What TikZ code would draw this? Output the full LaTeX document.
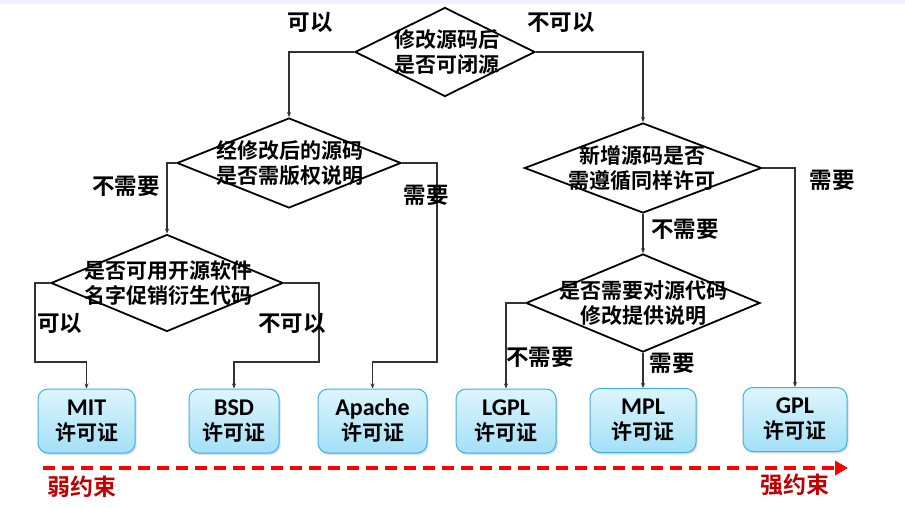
\documentclass[tikz,border=0pt]{standalone}
\usepackage{fontspec}
\setmainfont{Carlito}
\newfontfamily\cjk{Noto Sans CJK SC}[BoldFont={Noto Sans CJK SC Bold}]
\usetikzlibrary{shapes.geometric,arrows.meta,shadows}
\definecolor{boxtop}{HTML}{DDF5FD}
\definecolor{boxbot}{HTML}{A3E0F7}
\definecolor{boxline}{HTML}{3EB0E4}
\definecolor{conncol}{HTML}{333333}
\definecolor{darkred}{HTML}{C00000}
\tikzset{
  dia/.style={shape=diamond, draw=black, line width=1.8pt, inner sep=0pt},
  dtext/.style={font=\cjk\bfseries\fontsize{21}{25}\selectfont, align=center, inner sep=0pt},
  lbl/.style={font=\cjk\bfseries\fontsize{22.5}{26}\selectfont, inner sep=0pt},
  lic/.style={draw=boxline, line width=1pt, rounded corners=10pt, top color=boxtop, bottom color=boxbot,
    minimum height=64pt, align=center, inner sep=0pt,
    drop shadow={opacity=0.25, shadow xshift=1.5pt, shadow yshift=-2pt},
    font=\fontsize{24}{25}\selectfont\bfseries},
  conn/.style={draw=conncol, line width=1.2pt, -{Stealth[length=5pt,width=4pt]}},
  weak/.style={font=\cjk\bfseries\fontsize{23}{26}\selectfont, text=darkred, inner sep=0pt}
}
\newcommand{\lictext}[1]{#1\\{\cjk\bfseries\fontsize{21}{25}\selectfont 许可证}}
\begin{document}
\begin{tikzpicture}[x=1pt,y=-1pt]
\useasboundingbox (0,0) rectangle (905,508);
\fill[white] (0,0) rectangle (905,508);
\fill[blue!6] (0,0) rectangle (905,4);

% diamonds
\node[dia, minimum width=180pt, minimum height=89pt] (d1) at (445,52) {};
\node[dtext] (d1t) at (447,52) {修改源码后\\是否可闭源};
\node[dia, minimum width=224pt, minimum height=90pt] (d2) at (289,163) {};
\node[dtext] (d2t) at (290,163) {经修改后的源码\\是否需版权说明};
\node[dia, minimum width=232pt, minimum height=97pt] (d4) at (167,283) {};
\node[dtext] (d4t) at (168,283) {是否可用开源软件\\名字促销衍生代码};
\node[dia, minimum width=237pt, minimum height=90pt] (d3) at (643,168) {};
\node[dtext] (d3t) at (642,168) {新增源码是否\\需遵循同样许可};
\node[dia, minimum width=234pt, minimum height=98pt] (d5) at (643,303) {};
\node[dtext] (d5t) at (643,303) {是否需要对源代码\\修改提供说明};

% licence boxes
\node[lic, minimum width=97pt] (mit) at (86.5,421) {\lictext{MIT}};
\node[lic, minimum width=90pt] (bsd) at (234,421) {\lictext{BSD}};
\node[lic, minimum width=109pt] (apa) at (372.5,421) {\lictext{Apache}};
\node[lic, minimum width=100pt] (lgpl) at (506,421) {\lictext{LGPL}};
\node[lic, minimum width=106pt] (mpl) at (643,420.5) {\lictext{MPL}};
\node[lic, minimum width=104pt] (gpl) at (795,419.5) {\lictext{GPL}};

% connectors
\draw[conn] (d1.west) -| (d2.north);
\draw[conn] (d1.east) -| (d3.north);
\draw[conn] (d2.west) -| (d4.north);
\draw[conn] (d2.east) -- (437,163) -- (437,362) -| (apa.north);
\draw[conn] (d4.west) -- (35,283) -- (35,362) -| (mit.north);
\draw[conn] (d4.east) -- (319,283) -- (319,362) -| (bsd.north);
\draw[conn] (d3.east) -| (gpl.north);
\draw[conn] (d3.south) -- (d5.north);
\draw[conn] (d5.west) -| (lgpl.north);
\draw[conn] (d5.south) -- (mpl.north);

% labels
\node[lbl] (l1) at (310,22) {可以};
\node[lbl] (l2) at (561,22) {不可以};
\node[lbl] (l3) at (126,186) {不需要};
\node[lbl] (l4) at (426,195) {需要};
\node[lbl] (l5) at (60,323) {可以};
\node[lbl] (l6) at (292,323) {不可以};
\node[lbl] (l7) at (832,180) {需要};
\node[lbl] (l8) at (685,229) {不需要};
\node[lbl] (l9) at (540,357) {不需要};
\node[lbl] (l10) at (672,363) {需要};

% constraint arrow
\coordinate (as) at (43,468);
\coordinate (ae) at (848,468);
\draw[red, line width=4pt, dash pattern=on 12pt off 7pt, -{Triangle[length=13pt,width=14pt]}] (as) -- (ae);
\node[weak] (w1) at (82,487) {弱约束};
\node[weak] (w2) at (795,485) {强约束};
\end{tikzpicture}
\end{document}
